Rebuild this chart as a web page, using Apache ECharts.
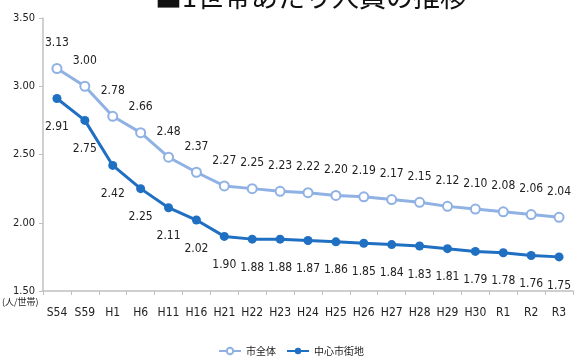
<!DOCTYPE html>
<html>
<head>
<meta charset="utf-8">
<script src="https://cdn.jsdelivr.net/npm/echarts@6/dist/echarts.min.js"></script>
<style>
  html, body { margin: 0; padding: 0; background: #fff; }
  #chart { width: 582px; height: 363px; }
</style>
</head>
<body>
<div id="chart"></div>
<script>
const categories = ['S54','S59','H1','H6','H11','H16','H21','H22','H23','H24','H25','H26','H27','H28','H29','H30','R1','R2','R3'];
const cityAll = [3.13,3.00,2.78,2.66,2.48,2.37,2.27,2.25,2.23,2.22,2.20,2.19,2.17,2.15,2.12,2.10,2.08,2.06,2.04];
const cityCenter = [2.91,2.75,2.42,2.25,2.11,2.02,1.90,1.88,1.88,1.87,1.86,1.85,1.84,1.83,1.81,1.79,1.78,1.76,1.75];
const yTicks = [1.5, 2.0, 2.5, 3.0, 3.5];

const labelFont = '"DejaVu Sans Condensed", "Liberation Sans", sans-serif';
const chart = echarts.init(document.getElementById('chart'));

chart.setOption({
  animation: false,
  // タイトル（上端で切れている）
  title: {
    text: '■1世帯あたり人員の推移',
    left: 150,
    top: -22,
    textStyle: { fontFamily: '"Noto Sans CJK JP"', fontSize: 27, fontWeight: 'normal', color: '#111' }
  },
  grid: { left: 43, right: 9, top: 18, bottom: 72 },
  legend: {
    bottom: 2,
    left: 'center',
    itemWidth: 22,
    itemHeight: 8,
    itemGap: 10,
    textStyle: { fontFamily: '"Noto Sans CJK JP"', fontSize: 10, color: '#222' },
    data: ['市全体', '中心市街地']
  },
  xAxis: {
    type: 'category',
    data: categories,
    boundaryGap: true,
    axisLine: { lineStyle: { color: '#c0c0c0', width: 1.5 } },
    axisTick: { show: true, length: 4, interval: 0, lineStyle: { color: '#c0c0c0' } },
    axisLabel: { interval: 0, hideOverlap: false, color: '#222', fontFamily: labelFont, fontSize: 12, margin: 16 }
  },
  yAxis: {
    type: 'value',
    min: yTicks[0],
    max: yTicks[yTicks.length - 1],
    interval: 0.5,
    axisLine: { show: true, lineStyle: { color: '#c0c0c0', width: 1.5 } },
    axisTick: { show: true, length: 4, lineStyle: { color: '#c0c0c0' } },
    splitLine: { show: false },
    axisLabel: {
      color: '#222', fontFamily: labelFont, fontSize: 11, margin: 8,
      formatter: v => v.toFixed(2)
    }
  },
  graphic: [{
    type: 'text',
    left: 2,
    top: 297,
    style: { text: '(人/世帯)', fontFamily: '"Noto Sans CJK JP"', fontSize: 9, fill: '#222' }
  }],
  series: [
    {
      name: '市全体',
      type: 'line',
      data: cityAll,
      symbol: 'circle',
      symbolSize: 9,
      color: '#8fb1e4',
      lineStyle: { width: 3, color: '#8fb1e4' },
      itemStyle: { color: '#fff', borderColor: '#8fb1e4', borderWidth: 2 },
      label: {
        show: true, position: 'top', distance: 14,
        color: '#222', fontFamily: labelFont, fontSize: 12,
        formatter: p => p.value.toFixed(2)
      }
    },
    {
      name: '中心市街地',
      type: 'line',
      data: cityCenter,
      symbol: 'circle',
      symbolSize: 9,
      color: '#1f6fc2',
      lineStyle: { width: 3, color: '#1f6fc2' },
      itemStyle: { color: '#1f6fc2' },
      label: {
        show: true, position: 'bottom', distance: 18,
        color: '#222', fontFamily: labelFont, fontSize: 12,
        formatter: p => p.value.toFixed(2)
      }
    }
  ]
});
</script>
</body>
</html>
